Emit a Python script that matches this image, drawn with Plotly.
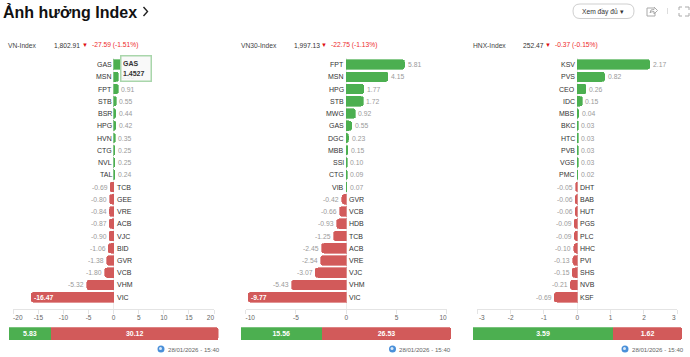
import plotly.graph_objects as go

W, H = 690, 357
FONT = "Liberation Sans"
GREEN, RED = "#4CAF50", "#D25A5A"
GREY = "#9a9a9a"

index_names = ["VN-Index", "VN30-Index", "HNX-Index"]
index_values = ["1,802.91", "1,997.13", "252.47"]
index_changes = ["-27.59 (-1.51%)", "-22.75 (-1.13%)", "-0.37 (-0.15%)"]

vn_symbols = ["GAS", "MSN", "FPT", "STB", "BSR", "HPG", "HVN", "CTG", "NVL", "TAL",
              "TCB", "GEE", "VRE", "ACB", "VJC", "BID", "GVR", "VCB", "VHM", "VIC"]
vn_values = [1.4527, 0.96, 0.91, 0.55, 0.44, 0.42, 0.35, 0.25, 0.25, 0.24,
             -0.69, -0.80, -0.84, -0.87, -0.90, -1.06, -1.38, -1.80, -5.32, -16.47]
vn30_symbols = ["FPT", "MSN", "HPG", "STB", "MWG", "GAS", "DGC", "MBB", "SSI", "CTG",
                "VIB", "GVR", "VCB", "HDB", "TCB", "ACB", "VRE", "VJC", "VHM", "VIC"]
vn30_values = [5.81, 4.15, 1.77, 1.72, 0.92, 0.55, 0.23, 0.15, 0.10, 0.09,
               0.07, -0.42, -0.66, -0.93, -1.25, -2.45, -2.54, -3.07, -5.43, -9.77]
hnx_symbols = ["KSV", "PVS", "CEO", "IDC", "MBS", "BKC", "HTC", "PVB", "VGS", "PMC",
               "DHT", "BAB", "HUT", "PGS", "PLC", "HHC", "PVI", "SHS", "NVB", "KSF"]
hnx_values = [2.17, 0.82, 0.26, 0.15, 0.04, 0.03, 0.03, 0.03, 0.03, 0.02,
              -0.05, -0.06, -0.06, -0.09, -0.09, -0.10, -0.13, -0.15, -0.21, -0.69]

vn_ticks = [-20, -15, -10, -5, 0, 5, 10, 15, 20]
vn30_ticks = [-10, -5, 0, 5, 10]
hnx_ticks = [-3, -2, -1, 0, 1, 2, 3]

up_totals = [5.83, 15.56, 3.59]
down_totals = [30.12, 26.53, 1.62]
timestamp = "28/01/2026 - 15:40"

panels = [
    dict(sym=vn_symbols, val=vn_values, ticks=vn_ticks, x0=13.3, x1=214, bar=(9, 218.5), pad=2.27, head=(8.3, 54, 84.5, 92), globe=161, time=168),
    dict(sym=vn30_symbols, val=vn30_values, ticks=vn30_ticks, x0=245.7, x1=446.7, bar=(240.5, 451), pad=3.2, head=(240.5, 293.5, 323.5, 331), globe=392.5, time=399.5),
    dict(sym=hnx_symbols, val=hnx_values, ticks=hnx_ticks, x0=477.3, x1=677.3, bar=(473, 682), pad=0.29, head=(472.7, 522.7, 547.5, 555), globe=625, time=632),
]

def fx(p): return p / W
def fy(p): return 1 - p / H

def path(points, close=False):
    parts = []
    for i, pt in enumerate(points):
        if pt[0] == "Q":
            parts.append(f"Q{fx(pt[1])},{fy(pt[2])} {fx(pt[3])},{fy(pt[4])}")
        else:
            parts.append(("M" if i == 0 else "L") + f"{fx(pt[0])},{fy(pt[1])}")
    return " ".join(parts) + (" Z" if close else "")

def text(x, y, s, size=6.7, color="#333", anchor="left", bold=False, xref="paper", yref="paper", **kw):
    return dict(x=x, y=y, xref=xref, yref=yref, text=f"<b>{s}</b>" if bold else s, showarrow=False,
                borderpad=0, borderwidth=0,
                xanchor=anchor, yanchor="middle", font=dict(family=FONT, size=size, color=color), **kw)

fig = go.Figure()
ann, shapes, layout_axes = [], [], {}
TOP, BOTTOM = 58.4, 309
for i, p in enumerate(panels):
    n = 2 * i + 1
    xa, ya = ("x" if n == 1 else f"x{n}"), ("y" if n == 1 else f"y{n}")
    xb, yb = f"x{n+1}", f"y{n+1}"
    key = lambda a, m: f"{a}axis" if m == 1 else f"{a}axis{m}"
    lim = p["ticks"][-1]
    colors = [GREEN if v >= 0 else RED for v in p["val"]]
    lines = ["rgba(76,175,80,0.65)" if v >= 0 else "rgba(210,90,90,0.65)" for v in p["val"]]
    fig.add_trace(go.Bar(x=p["val"], y=list(range(20)), orientation="h", xaxis=xa, yaxis=ya, width=0.78,
                         marker=dict(color=colors, line=dict(color=lines, width=1)), hoverinfo="skip", showlegend=False))
    ticktext = [str(t) for t in p["ticks"]]
    ticktext[0] = "\u00a0" * 5 + ticktext[0]
    ticktext[-1] = ticktext[-1] + "\u00a0" * 4
    layout_axes[key("x", n)] = dict(domain=[fx(p["x0"]), fx(p["x1"])], range=[-lim, lim], anchor=ya, side="bottom",
                                    tickvals=p["ticks"], ticktext=ticktext, ticks="outside", ticklen=4, tickcolor="#e4e4e4", tickwidth=1,
                                    ticklabelstandoff=-2,
                                    showline=True, linecolor="#e4e4e4", linewidth=1, showgrid=False,
                                    zeroline=True, zerolinecolor="#ececec", zerolinewidth=1,
                                    tickfont=dict(family=FONT, size=6.5, color="#666"))
    layout_axes[key("y", n)] = dict(domain=[fy(BOTTOM), fy(TOP)], range=[19.96, -0.5], anchor=xa, showticklabels=False, ticks="",
                                    showgrid=False, zeroline=False, showline=False)
    for r, (s, v) in enumerate(zip(p["sym"], p["val"])):
        if v >= 0:
            ann.append(text(0, r, s, 7, "#333", "right", xref=xa, yref=ya, xshift=-2))
            ann.append(text(v, r, f"{v:.2f}", 6.8, GREY, "left", xref=xa, yref=ya, xshift=3))
        else:
            ann.append(text(0, r, s, 7, "#333", "left", xref=xa, yref=ya, xshift=3))
            if v < -0.6 * lim:
                ann.append(text(v, r, f"{v:.2f}", 6.8, "white", "left", xref=xa, yref=ya, xshift=3, bold=True))
            else:
                ann.append(text(v, r, f"{v:.2f}", 6.8, GREY, "right", xref=xa, yref=ya, xshift=-2.5))
    up, down, pad = up_totals[i], down_totals[i], p["pad"]
    for seg, val, c in ((up + pad, up, GREEN), (down + pad, down, RED)):
        fig.add_trace(go.Bar(x=[seg], y=[0], orientation="h", xaxis=xb, yaxis=yb, width=1, text=[f"<b>{val:.2f}</b>"],
                             textposition="inside", insidetextanchor="middle", textangle=0, constraintext="none",
                             textfont=dict(family=FONT, size=7, color="white"),
                             marker=dict(color=c, line=dict(color=c, width=0)), hoverinfo="skip", showlegend=False))
    layout_axes[key("x", n + 1)] = dict(domain=[fx(p["bar"][0]), fx(p["bar"][1])], range=[0, up + down + 2 * pad], anchor=yb, visible=False)
    layout_axes[key("y", n + 1)] = dict(domain=[fy(340), fy(327.3)], range=[-0.5, 0.5], anchor=xb, visible=False)

    h = p["head"]
    ann.append(text(fx(h[0]), fy(45.3), index_names[i], 6.7, "#444"))
    ann.append(text(fx(h[1]), fy(45.3), index_values[i], 6.7, "#333"))
    ann.append(text(fx(h[2]), fy(45.3), "▼", 6, "#e01010", "center"))
    ann.append(text(fx(h[3]), fy(45.3), index_changes[i], 6.7, "#ee2a2a"))
    ann.append(text(fx(p["time"]), fy(349), timestamp, 6.1, "#666"))
    g = p["globe"]
    shapes.append(dict(type="circle", xref="paper", yref="paper", x0=fx(g - 3.5), x1=fx(g + 3.5), y0=fy(352.5), y1=fy(345.5),
                       fillcolor="#4a90d9", line=dict(width=0)))
    shapes.append(dict(type="circle", xref="paper", yref="paper", x0=fx(g - 2), x1=fx(g + 1), y0=fy(350), y1=fy(347),
                       fillcolor="#dbe9f7", line=dict(width=0)))

# Title
ann.append(text(fx(3), fy(12), "Ảnh hưởng Index", 16, "#111", bold=True))
shapes.append(dict(type="path", xref="paper", yref="paper", line=dict(color="#222", width=1.4),
                   path=path([(143.5, 7), (147.5, 11.5), (143.5, 16)])))

# Button and icons
bx0, bx1, by0, by1, rr = 573, 634, 4, 18.5, 7
shapes.append(dict(type="path", xref="paper", yref="paper", line=dict(color="#cfcfcf", width=1), fillcolor="white",
                   path=path([(bx0 + rr, by0), (bx1 - rr, by0), ("Q", bx1, by0, bx1, by0 + rr), ("Q", bx1, by1, bx1 - rr, by1),
                              (bx0 + rr, by1), ("Q", bx0, by1, bx0, by0 + rr), ("Q", bx0, by0, bx0 + rr, by0)], True)))
ann.append(text(fx(603), fy(11), "Xem đầy đủ ▾", 6.7, "#333", "center"))
shapes.append(dict(type="path", xref="paper", yref="paper", line=dict(color="#aaaaaa", width=1),
                   path=path([(653, 8), (647, 8), (647, 16), (655, 16), (655, 12)])))
shapes.append(dict(type="path", xref="paper", yref="paper", line=dict(color="#aaaaaa", width=1),
                   path=path([(650, 13), (651, 10), (654, 9.5), (654, 7), (657.5, 10.5), (654, 14), (654, 11.5), (651, 12), (650, 13)])))
shapes.append(dict(type="line", xref="paper", yref="paper", x0=fx(667.5), x1=fx(667.5), y0=fy(8), y1=fy(14), line=dict(color="#dddddd", width=1)))
for a, b, c, d, e, f2 in [(679, 10, 679, 7, 682, 7), (685, 7, 689, 7, 689, 10), (689, 13, 689, 16, 685, 16), (682, 16, 679, 16, 679, 13)]:
    shapes.append(dict(type="path", xref="paper", yref="paper", line=dict(color="#aaaaaa", width=1),
                       path=path([(a, b), (c, d), (e, f2)])))

# Tooltip on the hovered GAS bar
ann.append(dict(x=fx(120), y=fy(55), xref="paper", yref="paper", xanchor="left", yanchor="top", showarrow=False, align="left",
                text=f"<b>{vn_symbols[0]}<br>{vn_values[0]}</b>", width=26, height=21, bgcolor="rgba(248,248,248,0.85)", bordercolor="#a9d6ab",
                borderwidth=1.5, borderpad=1.5, font=dict(family=FONT, size=7, color="#333")))

fig.update_layout(width=W, height=H, margin=dict(l=0, r=0, t=0, b=0, autoexpand=False), paper_bgcolor="white", plot_bgcolor="white",
                  barmode="stack", barcornerradius=2.5, annotations=ann, shapes=shapes, showlegend=False, **layout_axes)
fig.write_html("out.html", config=dict(displayModeBar=False),
               post_script="document.body.style.margin='0';document.body.style.overflow='hidden';")
